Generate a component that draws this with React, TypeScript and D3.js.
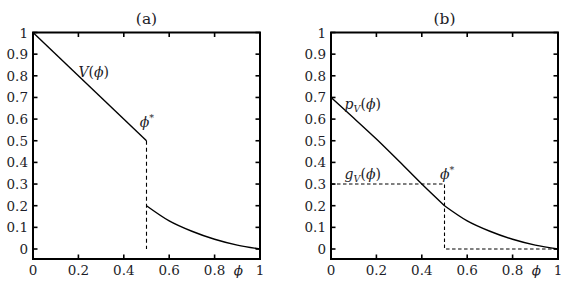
import React from 'react'
import * as d3 from 'd3'

// panel (a): value function, jump at phi*
const vTopPhi = [0, 0.5]
const vTopVal = [1, 0.5]
const tailPhi = [0.5, 0.6, 0.7, 0.8, 0.9, 1]
const tailVal = [0.2, 0.13, 0.082, 0.045, 0.018, 0]
const jumpPhi = [0.5, 0.5]
const jumpVal = [0.5, 0]

// panel (b): p_V and g_V
const pPhi = [0, 0.1, 0.2, 0.3, 0.4, 0.5]
const pVal = [0.7, 0.605, 0.508, 0.405, 0.3, 0.2]
const gPhi = [0, 0.5, 0.5, 1]
const gVal = [0.3, 0.3, 0, 0]

const xTicks = [0, 0.2, 0.4, 0.6, 0.8, 1]
const xTickLabels = ['0', '0.2', '0.4', '0.6', '0.8', '1']
const yTicks = [0, 0.1, 0.2, 0.3, 0.4, 0.5, 0.6, 0.7, 0.8, 0.9, 1]
const yTickLabels = ['0', '0.1', '0.2', '0.3', '0.4', '0.5', '0.6', '0.7', '0.8', '0.9', '1']

const FONT = '"DejaVu Serif", "Liberation Serif", serif'
const FS = 13.5
const INK = '#1d1d28'
const PHI = 'ϕ'

const zip = (xs: number[], ys: number[]) => xs.map((x, i) => [x, ys[i]] as [number, number])

const Panel = ({ left, title, children }: { left: number; title: string; children: (x: any, y: any) => React.ReactNode }) => {
  const x = d3.scaleLinear().domain([0, 1]).range([left, left + 227])
  const y = d3.scaleLinear().domain([0, 1]).range([249, 32.5])
  const y0 = 259
  const tk = 4.5
  return (
    <g>
      <text x={(x(0) + x(1)) / 2} y={23.5} textAnchor="middle" fontFamily={FONT} fontSize={15.5} fill={INK}>
        {title}
      </text>
      {children(x, y)}
      {yTicks.map((t, i) => (
        <g key={'y' + i}>
          <line x1={x(0)} x2={x(0) + tk} y1={y(t)} y2={y(t)} stroke="#000" strokeWidth={1.6} />
          <line x1={x(1)} x2={x(1) - tk} y1={y(t)} y2={y(t)} stroke="#000" strokeWidth={1.6} />
          <text x={x(0) - 5} y={y(t) + 5} textAnchor="end" fontFamily={FONT} fontSize={FS} fill={INK}>
            {yTickLabels[i]}
          </text>
        </g>
      ))}
      {xTicks.map((t, i) => (
        <g key={'x' + i}>
          <line x1={x(t)} x2={x(t)} y1={y0} y2={y0 - tk} stroke="#000" strokeWidth={1.6} />
          <line x1={x(t)} x2={x(t)} y1={y(1)} y2={y(1) + tk} stroke="#000" strokeWidth={1.6} />
          <text x={x(t)} y={275} textAnchor="middle" fontFamily={FONT} fontSize={FS} fill={INK}>
            {xTickLabels[i]}
          </text>
        </g>
      ))}
      <text x={x(0.905)} y={275} textAnchor="middle" fontFamily={FONT} fontSize={FS} fontStyle="italic" fill={INK}>
        {PHI}
      </text>
      <rect x={x(0)} y={y(1)} width={x(1) - x(0)} height={y0 - y(1)} fill="none" stroke="#000" strokeWidth={2} />
    </g>
  )
}

const App = () => {
  const lineFor = (x: any, y: any) =>
    d3.line<[number, number]>().x((d) => x(d[0])).y((d) => y(d[1]))
  const curveFor = (x: any, y: any) =>
    d3.line<[number, number]>().x((d) => x(d[0])).y((d) => y(d[1])).curve(d3.curveMonotoneX)

  return (
    <svg width={570} height={287} style={{ position: 'absolute', left: 0, top: 0, background: '#fff' }}>
      <Panel left={33} title="(a)">
        {(x, y) => (
          <g>
            <path d={lineFor(x, y)(zip(vTopPhi, vTopVal)) || ''} fill="none" stroke="#000" strokeWidth={1.4} />
            <path d={curveFor(x, y)(zip(tailPhi, tailVal)) || ''} fill="none" stroke="#000" strokeWidth={1.4} />
            <path d={lineFor(x, y)(zip(jumpPhi, jumpVal)) || ''} fill="none" stroke="#000" strokeWidth={1.1} strokeDasharray="4,3" />
            <text x={x(0.2)} y={y(0.795)} fontFamily={FONT} fontSize={FS + 0.5} fill={INK}>
              <tspan fontStyle="italic">V</tspan>(<tspan fontStyle="italic">{PHI}</tspan>)
            </text>
            <text x={x(0.47)} y={y(0.565)} fontFamily={FONT} fontSize={FS + 0.5} fill={INK}>
              <tspan fontStyle="italic">{PHI}</tspan>
              <tspan fontSize={9.5} dy={-6}>*</tspan>
            </text>
          </g>
        )}
      </Panel>
      <Panel left={331} title="(b)">
        {(x, y) => (
          <g>
            <path d={curveFor(x, y)(zip(pPhi, pVal)) || ''} fill="none" stroke="#000" strokeWidth={1.4} />
            <path d={curveFor(x, y)(zip(tailPhi, tailVal)) || ''} fill="none" stroke="#000" strokeWidth={1.4} />
            <path d={lineFor(x, y)(zip(gPhi, gVal)) || ''} fill="none" stroke="#000" strokeWidth={1.1} strokeDasharray="3.5,2.5" />
            <text x={x(0.06)} y={y(0.645)} fontFamily={FONT} fontSize={FS + 0.5} fill={INK}>
              <tspan fontStyle="italic">p</tspan>
              <tspan fontStyle="italic" fontSize={9.5} dy={3}>V</tspan>
              <tspan dy={-3}>(</tspan>
              <tspan fontStyle="italic">{PHI}</tspan>)
            </text>
            <text x={x(0.06)} y={y(0.325)} fontFamily={FONT} fontSize={FS + 0.5} fill={INK}>
              <tspan fontStyle="italic">g</tspan>
              <tspan fontStyle="italic" fontSize={9.5} dy={3}>V</tspan>
              <tspan dy={-3}>(</tspan>
              <tspan fontStyle="italic">{PHI}</tspan>)
            </text>
            <text x={x(0.48)} y={y(0.325)} fontFamily={FONT} fontSize={FS + 0.5} fill={INK}>
              <tspan fontStyle="italic">{PHI}</tspan>
              <tspan fontSize={9.5} dy={-6}>*</tspan>
            </text>
          </g>
        )}
      </Panel>
    </svg>
  )
}

export default App
